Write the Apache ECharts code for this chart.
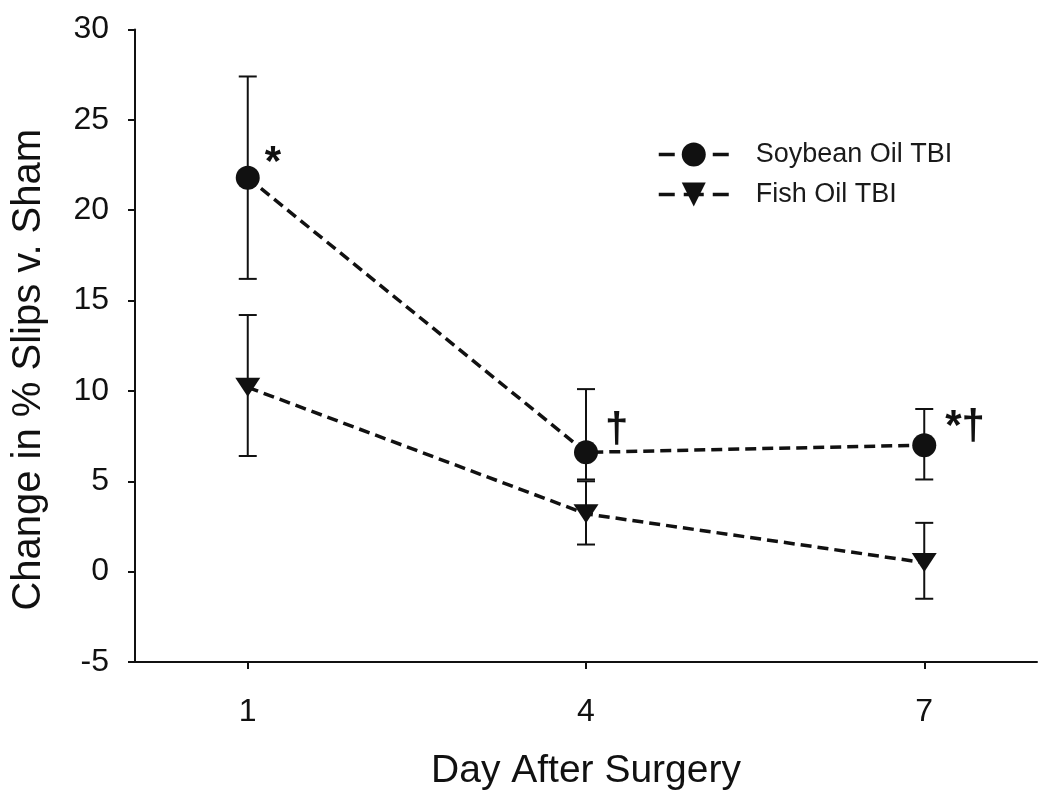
<!DOCTYPE html>
<html>
<head>
<meta charset="utf-8">
<script src="https://cdn.jsdelivr.net/npm/echarts@6/dist/echarts.min.js"></script>
<style>
html,body{margin:0;padding:0;background:#fff;}
#chart{width:1050px;height:811px;}
</style>
</head>
<body>
<div id="chart"></div>
<script>
// ---- data ----
const days = [1, 4, 7];
const xTickValues = [1, 4, 7];
const soyName = 'Soybean Oil TBI';
const fishName = 'Fish Oil TBI';
const soyMean = [21.8, 6.6, 7.0];
const soyUpper = [27.4, 10.1, 9.0];
const soyLower = [16.2, 5.1, 5.1];
const fishMean = [10.2, 3.2, 0.5];
const fishUpper = [14.2, 5.0, 2.7];
const fishLower = [6.4, 1.5, -1.5];
const soyMarks = ['*', '†', '*†'];
const xTitle = 'Day After Surgery';
const yTitle = 'Change in % Slips v. Sham';

const INK = '#111';
const FONT = 'Liberation Sans, Arial, sans-serif';
const triPath = 'path://M0,0 L20,0 L10,15 Z';

function errData(lo, hi) {
  return days.map((d, i) => [d, lo[i], hi[i]]);
}
function errRender(params, api) {
  const x = api.value(0);
  const lo = api.coord([x, api.value(1)]);
  const hi = api.coord([x, api.value(2)]);
  const cap = 9;
  const st = { stroke: INK, lineWidth: 2 };
  return {
    type: 'group',
    children: [
      { type: 'line', shape: { x1: lo[0], y1: lo[1], x2: hi[0], y2: hi[1] }, style: st },
      { type: 'line', shape: { x1: lo[0] - cap, y1: lo[1], x2: lo[0] + cap, y2: lo[1] }, style: st },
      { type: 'line', shape: { x1: hi[0] - cap, y1: hi[1], x2: hi[0] + cap, y2: hi[1] }, style: st }
    ]
  };
}

const labelOffsets = [[0, -14], [2, -22], [4, -18]];
const soyData = days.map((d, i) => ({
  value: [d, soyMean[i]],
  label: {
    show: true,
    formatter: soyMarks[i],
    position: 'right',
    offset: labelOffsets[i],
    fontSize: 42,
    fontWeight: 'bold',
    color: INK,
    fontFamily: FONT
  }
}));
const fishData = days.map((d, i) => [d, fishMean[i]]);

const chart = echarts.init(document.getElementById('chart'), null, { renderer: 'canvas' });
chart.setOption({
  backgroundColor: '#fff',
  animation: false,
  grid: { left: 135, right: 13, top: 29.5, bottom: 149 },
  legend: {
    left: 652,
    top: 136,
    orient: 'vertical',
    itemWidth: 70,
    itemHeight: 30,
    itemGap: 13,
    data: [soyName, fishName],
    lineStyle: { type: [16, 9, 20, 9, 16, 10], width: 3.5 },
    textStyle: { fontSize: 27, color: '#1a1a1a', fontFamily: FONT, padding: [0, 0, 0, 22] }
  },
  xAxis: {
    type: 'value',
    min: 0,
    max: 8,
    name: xTitle,
    nameLocation: 'middle',
    nameGap: 90,
    nameTextStyle: { fontSize: 39, color: INK, fontFamily: FONT },
    axisLine: { onZero: false, lineStyle: { color: INK, width: 2 } },
    axisTick: { show: true, customValues: xTickValues, length: 7, inside: false, lineStyle: { color: INK, width: 2 } },
    axisLabel: { customValues: xTickValues, fontSize: 32, color: INK, fontFamily: FONT, margin: 34 },
    splitLine: { show: false }
  },
  yAxis: {
    type: 'value',
    min: -5,
    max: 30,
    interval: 5,
    name: yTitle,
    nameLocation: 'middle',
    nameGap: 86,
    nameRotate: 90,
    nameTextStyle: { fontSize: 40, color: INK, fontFamily: FONT, padding: [0, 48, 0, 0] },
    axisLine: { show: true, lineStyle: { color: INK, width: 2 } },
    axisTick: { show: true, length: 7, lineStyle: { color: INK, width: 2 } },
    axisLabel: { fontSize: 32, color: INK, fontFamily: FONT, margin: 26 },
    splitLine: { show: false }
  },
  series: [
    {
      type: 'custom',
      name: 'soyErr',
      renderItem: errRender,
      data: errData(soyLower, soyUpper),
      z: 1,
      silent: true
    },
    {
      type: 'custom',
      name: 'fishErr',
      renderItem: errRender,
      data: errData(fishLower, fishUpper),
      z: 1,
      silent: true
    },
    {
      type: 'line',
      name: soyName,
      data: soyData,
      symbol: 'circle',
      symbolSize: 24,
      itemStyle: { color: INK },
      lineStyle: { color: INK, width: 3.5, type: [11, 6] },
      z: 3
    },
    {
      type: 'line',
      name: fishName,
      data: fishData,
      symbol: triPath,
      symbolSize: [25, 19],
      itemStyle: { color: INK },
      lineStyle: { color: INK, width: 3.5, type: [11, 6] },
      z: 3
    }
  ]
});
</script>
</body>
</html>
